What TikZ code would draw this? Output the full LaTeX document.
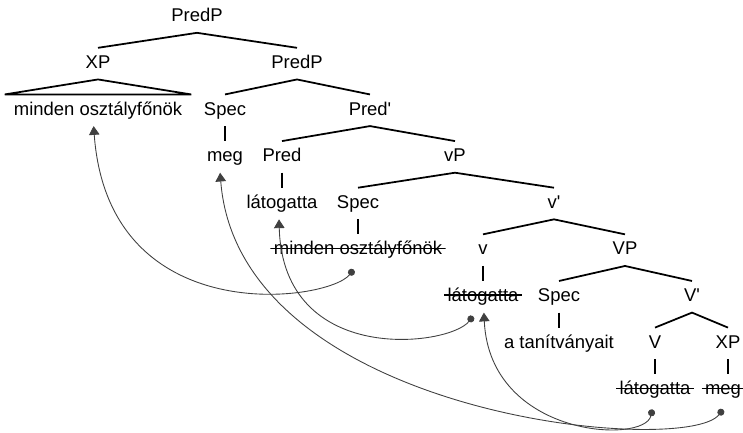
\documentclass[tikz,border=0pt]{standalone}
\usepackage{fontspec}
\setmainfont{Liberation Sans}
\usepackage{tikz}
\usetikzlibrary{arrows.meta, positioning}

\begin{document}
\begin{tikzpicture}[
    node distance=0.3cm,
    lbl/.style={font=\fontsize{10.5pt}{12pt}\selectfont, text height=7.6pt, text depth=2.2pt, inner ysep=3.9pt, inner xsep=2pt},
    struck/.style={lbl, path picture={\draw[line width=0.7pt] ([yshift=1pt]path picture bounding box.west) -- ([yshift=1pt]path picture bounding box.east);}},
    br/.style={line width=1pt},
    mv/.style={{Circle[length=4pt]}-{Triangle[length=5pt,width=6pt]}, line width=0.5pt, black!75}
]
    \useasboundingbox (0,0) rectangle (14.86,-8.66);

    % Nodes
    \node[lbl] (predp0) at (3.94,-0.34) {PredP};
    \node[lbl, below=of predp0, xshift=-1.98cm] (xp) {XP};
    \node[lbl, below=of predp0, xshift=2cm] (predp1) {PredP};
    \node[lbl, below=of xp] (mo1) {minden osztályfőnök};
    \node[lbl, below=of predp1, xshift=-1.44cm] (spec1) {Spec};
    \node[lbl, below=of predp1, xshift=1.46cm] (predbar) {Pred\textquotesingle};
    \node[lbl, below=of spec1] (meg1) {meg};
    \node[lbl, below=of predbar, xshift=-1.76cm] (pred) {Pred};
    \node[lbl, below=of predbar, xshift=1.7cm] (vp) {vP};
    \node[lbl, below=of pred] (lat1) {látogatta};
    \node[lbl, below=of vp, xshift=-1.94cm] (spec2) {Spec};
    \node[lbl, below=of vp, xshift=1.98cm] (vbar) {v\textquotesingle};
    \node[struck, below=of spec2] (mo2) {minden osztályfőnök};
    \node[lbl, below=of vbar, xshift=-1.42cm] (v) {v};
    \node[lbl, below=of vbar, xshift=1.42cm] (VP) {VP};
    \node[struck, below=of v] (lat2) {látogatta};
    \node[lbl, below=of VP, xshift=-1.32cm] (spec3) {Spec};
    \node[lbl, below=of VP, xshift=1.34cm] (Vbar) {V\textquotesingle};
    \node[lbl, below=of spec3] (tan) {a tanítványait};
    \node[lbl, below=of Vbar, xshift=-0.74cm] (V) {V};
    \node[lbl, below=of Vbar, xshift=0.72cm] (xp2) {XP};
    \node[struck, below=of V] (lat3) {látogatta};
    \node[struck, below=of xp2, xshift=-0.1cm] (meg2) {meg};

    % Branches
    \draw[br] (xp.north) -- (predp0.south) -- (predp1.north);
    \draw[br] ([xshift=-3pt]mo1.north west) -- (xp.south) -- ([xshift=3pt]mo1.north east) -- cycle;
    \draw[br] (spec1.north) -- (predp1.south) -- (predbar.north);
    \draw[br] (spec1) -- (meg1);
    \draw[br] (pred.north) -- (predbar.south) -- (vp.north);
    \draw[br] (pred) -- (lat1);
    \draw[br] (spec2.north) -- (vp.south) -- (vbar.north);
    \draw[br] (spec2) -- (mo2);
    \draw[br] (v.north) -- (vbar.south) -- (VP.north);
    \draw[br] (v) -- (lat2);
    \draw[br] (spec3.north) -- (VP.south) -- (Vbar.north);
    \draw[br] (spec3) -- (tan);
    \draw[br] (V.north) -- (Vbar.south) -- (xp2.north);
    \draw[br] (V) -- (lat3);
    \draw[br] (xp2.south) -- ([xshift=0.1cm]meg2.north);

    % Movement arrows
    \draw[mv] ([xshift=-2.5pt,yshift=-2pt]mo2.south) .. controls +(-0.5,-0.64) and +(0.3,-4.12) .. ([xshift=-2.5pt]mo1.south);
    \draw[mv] ([xshift=-5.7pt,yshift=-2pt]lat2.south) .. controls +(-0.46,-0.6) and +(0.08,-2.96) .. ([xshift=-1.7pt]lat1.south);
    \draw[mv] ([xshift=-1.5pt,yshift=-2pt]lat3.south) .. controls +(-0.16,-0.7) and +(0.12,-2.5) .. ([xshift=0.5pt]lat2.south);
    \draw[mv] ([xshift=0pt,yshift=-2pt]meg2.south) .. controls +(-0.72,-0.95) and +(0.38,-4.9) .. ([xshift=-2.8pt]meg1.south);
\end{tikzpicture}
\end{document}
